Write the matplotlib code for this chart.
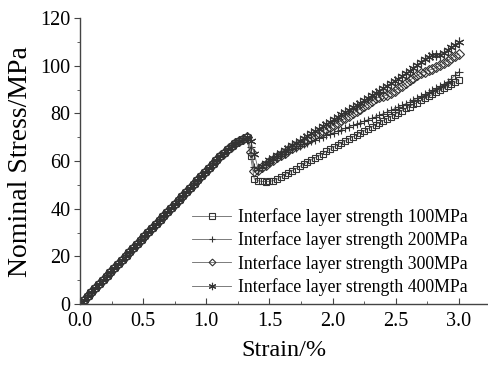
import numpy as np
import matplotlib.pyplot as plt
from matplotlib.ticker import MultipleLocator

plt.rcParams['font.family'] = ['Liberation Serif', 'DejaVu Serif']

# strain sampled every 0.03 %, 0.00 .. 3.00
strain = np.round(np.arange(0, 3.001, 0.03), 2)

# common elastic part, 0.00 .. 1.32
rise = [0.0, 1.7, 3.4, 5.0, 6.7, 8.4, 10.1, 11.8, 13.4, 15.1, 16.8,
        18.5, 20.2, 21.8, 23.5, 25.2, 26.9, 28.6, 30.2, 31.9, 33.6,
        35.3, 37.0, 38.6, 40.3, 42.0, 43.7, 45.4, 47.0, 48.7, 50.4,
        52.1, 53.8, 55.4, 57.1, 58.8, 60.4, 62.0, 63.5, 65.0, 66.3,
        67.5, 68.6, 69.4, 70.0]

# after failure, 1.35 .. 3.00
post_100 = [62.0, 52.5, 51.8, 51.5, 51.4, 51.5, 51.8, 52.4, 53.3, 54.2,
            55.1, 56.0, 56.9, 57.8, 58.7, 59.6, 60.5, 61.4, 62.3, 63.2,
            64.1, 65.0, 65.9, 66.8, 67.6, 68.5, 69.3, 70.2, 71.0, 71.9,
            72.7, 73.6, 74.4, 75.3, 76.1, 77.0, 77.8, 78.7, 79.5, 80.4,
            81.2, 82.1, 82.9, 83.8, 84.6, 85.5, 86.3, 87.2, 88.0, 88.9,
            89.7, 90.6, 91.4, 92.3, 93.1, 94.0]
post_200 = [66.0, 57.5, 56.3, 57.3, 58.3, 59.3, 60.3, 61.2, 62.2, 63.1,
            64.0, 64.9, 65.7, 66.4, 67.1, 67.8, 68.4, 69.0, 69.6, 70.2,
            70.8, 71.4, 72.0, 72.6, 73.2, 73.8, 74.4, 75.0, 75.6, 76.2,
            76.8, 77.4, 78.0, 78.6, 79.3, 79.9, 80.6, 81.3, 82.0, 82.7,
            83.4, 84.1, 84.8, 85.6, 86.4, 87.2, 88.0, 88.8, 89.7, 90.6,
            91.5, 92.4, 93.4, 94.6, 96.0, 97.5]
post_300 = [64.0, 56.0, 56.2, 57.4, 58.5, 59.6, 60.6, 61.6, 62.6, 63.6,
            64.5, 65.4, 66.3, 67.2, 68.1, 69.0, 69.9, 70.8, 71.7, 72.6,
            73.5, 74.4, 75.3, 76.2, 77.1, 78.0, 79.0, 80.0, 81.0, 82.0,
            83.0, 84.0, 85.2, 86.4, 86.8, 87.2, 87.8, 88.6, 89.6, 90.6,
            91.7, 92.8, 93.9, 95.0, 96.0, 96.9, 97.6, 98.1, 98.6, 99.3,
            100.2, 101.2, 102.2, 103.2, 104.2, 105.0]
post_400 = [68.5, 63.0, 56.8, 58.0, 59.2, 60.3, 61.4, 62.5, 63.6, 64.6,
            65.6, 66.6, 67.6, 68.6, 69.6, 70.6, 71.6, 72.6, 73.6, 74.6,
            75.6, 76.6, 77.6, 78.6, 79.6, 80.6, 81.6, 82.6, 83.6, 84.6,
            85.6, 86.6, 87.6, 88.6, 89.6, 90.6, 91.6, 92.6, 93.6, 94.6,
            95.7, 96.8, 97.9, 99.0, 100.2, 101.5, 102.8, 103.9, 104.4, 104.5,
            104.7, 105.5, 106.6, 107.7, 108.8, 109.9]

labels = ['Interface layer strength 100MPa', 'Interface layer strength 200MPa',
          'Interface layer strength 300MPa', 'Interface layer strength 400MPa']
series = [post_100, post_200, post_300, post_400]
markers = ['s', '+', 'D', (6, 2, 0)]
sizes = [5, 6, 4.6, 7]

fig = plt.figure(figsize=(4.88, 3.70), dpi=100)
ax = fig.add_axes([0.164, 0.178, 0.836, 0.773])

col = '#333333'
for post, lab, mk, ms in zip(series, labels, markers, sizes):
    ax.plot(strain, rise + post, color='#666666', lw=0.6, marker=mk, ms=ms,
            mfc='none', mec=col, mew=0.8, label=lab)

ax.set_xlim(0, 3.23)
ax.set_ylim(0, 120)
ax.xaxis.set_major_locator(MultipleLocator(0.5))
ax.xaxis.set_minor_locator(MultipleLocator(0.25))
ax.yaxis.set_major_locator(MultipleLocator(20))
ax.yaxis.set_minor_locator(MultipleLocator(10))
ax.xaxis.set_major_formatter(plt.FormatStrFormatter('%.1f'))

for s in ['top', 'right']:
    ax.spines[s].set_visible(False)
for s in ['left', 'bottom']:
    ax.spines[s].set_color('#444444')
    ax.spines[s].set_linewidth(1.0)

ax.tick_params(axis='x', which='major', direction='in', length=4, pad=6,
               labelsize=14.5, color='#444444')
ax.tick_params(axis='x', which='minor', direction='in', length=2.5, color='#444444')
ax.tick_params(axis='y', which='major', direction='out', length=4, pad=3,
               labelsize=14.5, color='#444444')
ax.tick_params(axis='y', which='minor', direction='out', length=2.5, color='#444444')

ax.set_xlabel('Strain/%', fontsize=17.5, labelpad=6)
ax.set_ylabel('Nominal Stress/MPa', fontsize=20, labelpad=5)

ax.legend(loc='upper left', bbox_to_anchor=(0.275, 0.335), frameon=False,
          fontsize=12.8, handlelength=2.2, handletextpad=0.35,
          labelspacing=0.3, borderpad=0, borderaxespad=0, markerscale=0.75)

fig.savefig('out.png', dpi=100)
